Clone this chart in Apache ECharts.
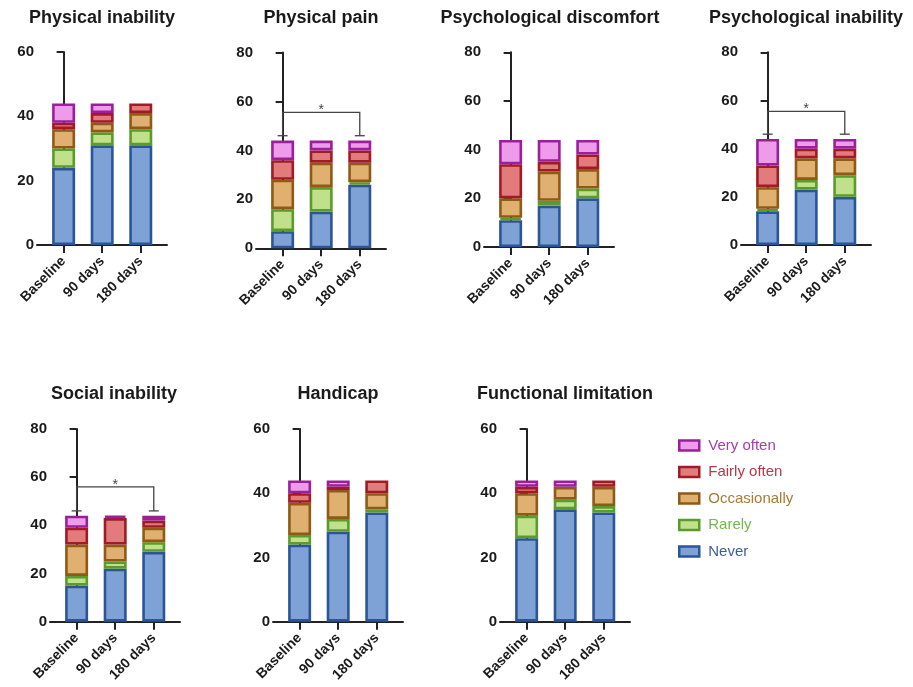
<!DOCTYPE html>
<html><head><meta charset="utf-8">
<script src="https://cdn.jsdelivr.net/npm/echarts@6/dist/echarts.min.js"></script>
<style>html,body{margin:0;padding:0;background:#fff}#c{width:913px;height:687px}</style>
</head><body><div id="c"></div>
<script>
const categories = ['Baseline', '90 days', '180 days'];
const levels = ['Never', 'Rarely', 'Occasionally', 'Fairly often', 'Very often'];
const panelTitles = ['Physical inability', 'Physical pain', 'Psychological discomfort', 'Psychological inability', 'Social inability', 'Handicap', 'Functional limitation'];
// rows: Never, Rarely, Occasionally, Fairly often, Very often; columns: Baseline, 90 days, 180 days
const physicalInability = [[24, 31, 31], [6, 4, 5], [6, 3, 5], [2, 3, 3], [6, 3, 0]];
const physicalPain = [[7, 15, 26], [9, 10, 1], [12, 10, 8], [8, 5, 5], [8, 4, 4]];
const psychologicalDiscomfort = [[11, 17, 20], [1, 2, 4], [8, 12, 8], [14, 4, 6], [10, 9, 6]];
const psychologicalInability = [[14, 23, 20], [1, 4, 9], [9, 9, 7], [9, 4, 4], [11, 4, 4]];
const socialInability = [[15, 22, 29], [4, 3, 4], [13, 7, 6], [7, 11, 3], [5, 1, 2]];
const handicap = [[24, 28, 34], [3, 4, 1], [10, 9, 5], [3, 1, 4], [4, 2, 0]];
const functionalLimitation = [[26, 35, 34], [7, 3, 2], [7, 4, 6], [2, 0, 2], [2, 2, 0]];
const panelData = [physicalInability, physicalPain, psychologicalDiscomfort, psychologicalInability, socialInability, handicap, functionalLimitation];
const yMax = [60, 80, 80, 80, 80, 60, 60];
// significance brackets: [from category, to category, lower end, upper line]
const brackets = [null, [0, 2, 46, 55.5], null, [0, 2, 46, 55.5], [0, 2, 46, 56], null, null];

// layout (pixels)
const gridLeft = [37, 256, 484, 741, 50, 273, 500];
const gridTop = [52, 52.5, 52.3, 52.3, 429, 429, 429];
const gridBottomY = [245, 248.3, 247, 245, 621.7, 621.7, 621.7];
const titleX = [102, 321, 550, 806, 114, 338, 565];
const titleY = [9, 9, 9, 9, 385, 385, 385];

const fills = ['#7ea2d6', '#c0e08c', '#e0b070', '#e27b7b', '#ef9bec'];
const borders = ['#2c5597', '#5b9b2b', '#8e5a16', '#a01b26', '#9a209a'];
const legendText = ['#3c5d9c', '#72b84a', '#a87a38', '#b23a48', '#a43ea8'];

const axisColor = '#222';
const font = 'Liberation Sans, Arial, sans-serif';

const grids = [], xAxes = [], yAxes = [], series = [], titles = [];
panelData.forEach((pd, i) => {
  grids.push({ left: gridLeft[i], top: gridTop[i], width: 130, height: gridBottomY[i] - gridTop[i], containLabel: false });
  titles.push({ text: panelTitles[i], left: titleX[i], top: titleY[i], textAlign: 'center', padding: 0,
    textStyle: { fontFamily: font, fontWeight: 'bold', fontSize: 18, color: '#1a1a1a' } });
  xAxes.push({
    type: 'value', gridIndex: i, min: -0.69, max: 2.68,
    axisLine: { show: true, onZero: false, lineStyle: { color: axisColor, width: 2 } },
    axisTick: { show: true, customValues: [0, 1, 2], length: 8, lineStyle: { color: axisColor, width: 2 } },
    axisLabel: { customValues: [0, 1, 2], formatter: v => categories[v] || '', rotate: 45, margin: 14,
      fontFamily: font, fontWeight: 'bold', fontSize: 14, color: '#1a1a1a' },
    splitLine: { show: false }
  });
  yAxes.push({
    type: 'value', gridIndex: i, min: 0, max: yMax[i], interval: 20,
    axisLine: { show: true, lineStyle: { color: axisColor, width: 2 } },
    axisTick: { show: true, length: 7, lineStyle: { color: axisColor, width: 2 } },
    axisLabel: { margin: 3, fontFamily: font, fontWeight: 'bold', fontSize: 15, color: '#1a1a1a' },
    splitLine: { show: false }
  });
  levels.forEach((lv, k) => {
    // value first so that the stack runs along y; zero counts are left empty
    const d = pd[k].map((v, c) => [v > 0 ? v : '-', c]);
    series.push({
      name: lv, type: 'bar', xAxisIndex: i, yAxisIndex: i, stack: 'p' + i, barWidth: 23,
      data: d, encode: { x: 1, y: 0 },
      itemStyle: { color: fills[k], borderColor: borders[k], borderWidth: 2.6 },
      emphasis: { disabled: true }, animation: false
    });
  });
  if (brackets[i]) {
    series.push({
      type: 'custom', xAxisIndex: i, yAxisIndex: i, silent: true, animation: false,
      data: [brackets[i]],
      encode: { x: [0, 1], y: [2, 3] },
      renderItem: (params, api) => {
        const a = api.coord([api.value(0), api.value(3)]);
        const b = api.coord([api.value(1), api.value(3)]);
        const a0 = api.coord([api.value(0), api.value(2)]);
        const b0 = api.coord([api.value(1), api.value(2)]);
        const st = { stroke: '#444', lineWidth: 1.3, fill: null };
        return { type: 'group', children: [
          { type: 'polyline', shape: { points: [a0, a, b, b0] }, style: st },
          { type: 'line', shape: { x1: a0[0] - 5, y1: a0[1], x2: a0[0] + 5, y2: a0[1] }, style: st },
          { type: 'line', shape: { x1: b0[0] - 5, y1: b0[1], x2: b0[0] + 5, y2: b0[1] }, style: st },
          { type: 'text', style: { text: '*', x: (a[0] + b[0]) / 2, y: a[1] + 5, align: 'center', verticalAlign: 'bottom',
            fontSize: 14, fontFamily: font, fill: '#444' } }
        ] };
      }
    });
  }
});

const chart = echarts.init(document.getElementById('c'), null, { renderer: 'canvas' });
chart.setOption({
  animation: false,
  title: titles,
  grid: grids, xAxis: xAxes, yAxis: yAxes, series: series,
  legend: {
    orient: 'vertical', left: 673, top: 433, itemWidth: 20, itemHeight: 10, itemGap: 11.5,
    icon: 'rect', selectedMode: false,
    itemStyle: { borderWidth: 2.5 },
    data: levels.slice().reverse().map(n => ({ name: n, textStyle: { color: legendText[levels.indexOf(n)] } })),
    textStyle: { fontFamily: font, fontSize: 15, padding: [0, 0, 0, 4] }
  }
});
</script></body></html>
